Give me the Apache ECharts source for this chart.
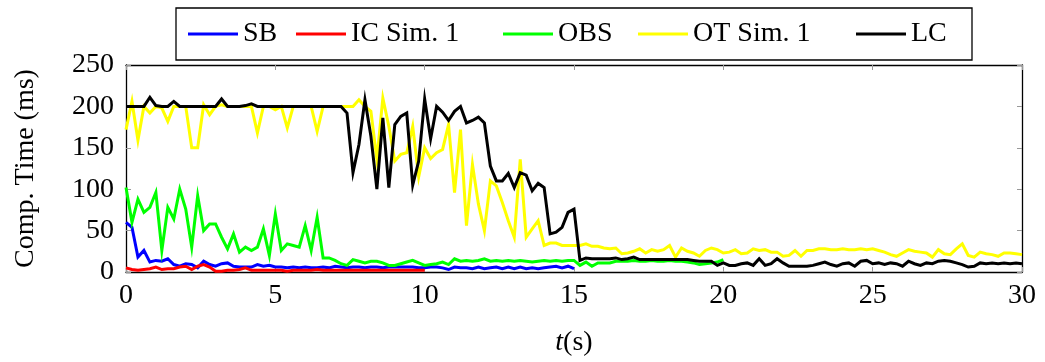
<!DOCTYPE html>
<html>
<head>
<meta charset="utf-8">
<script src="https://cdn.jsdelivr.net/npm/echarts@6/dist/echarts.min.js"></script>
<style>html,body{margin:0;padding:0;background:#fff}#c{width:1045px;height:362px}</style>
</head>
<body>
<div id="c"></div>
<script>
// time step between samples (seconds)
const tStep = 0.2;
const xTicks = [0, 5, 10, 15, 20, 25, 30];
const yTicks = [0, 50, 100, 150, 200, 250];
const seriesNames = ['SB', 'IC Sim. 1', 'OBS', 'OT Sim. 1', 'LC'];

// SB: 0 .. 15 s
const sb = [60,54,18,26,12, 14,13,16,9,7, 10,9,5,13,9, 7,10,11,7,6, 6,6,9,7,8,
  6,6,5,6,5, 6,5,5,6,5, 7,6,5,6,6, 5,6,6,5,6, 6,6,6,6,5,
  5,6,6,5,3, 6,5,5,4,6, 4,5,6,4,6, 4,6,4,5,4, 5,6,7,5,7, 4];
// IC Sim. 1: 0 .. 10 s
const ic = [5,3,2,3,4, 6,3,4,4,6, 7,3,7,9,6, 1,1,2,2,3, 5,2,2,2,2,
  2,2,1,2,2, 2,2,3,2,2, 2,2,2,2,2, 2,2,2,2,2, 2,2,2,2,2, 2];
// OBS: 0 .. 20 s
const obs = [102,60,88,72,78, 96,26,78,64,100, 76,30,92,50,58, 58,42,28,46,24, 30,26,30,52,20,
  70,26,34,32,30, 56,26,66,17,17, 14,10,8,15,13, 11,13,13,11,8, 8,10,12,14,11,
  8,9,10,12,9, 16,13,14,13,14, 16,13,14,13,14, 13,14,13,12,13, 14,13,14,13,14,
  14,8,12,7,11, 11,11,13,13,13, 14,13,13,14,13, 13,14,13,13,12, 11,9,10,11,12, 15];
// OT Sim. 1: 0 .. 30 s
const ot = [172,206,159,200,192, 200,198,182,200,200, 200,150,150,202,190, 200,202,200,200,200,
  200,200,168,200,200, 196,200,174,200,200, 200,200,170,200,200, 200,200,200,200,208,
  200,194,136,210,176, 134,142,144,176,115, 150,137,144,148,178, 96,172,56,130,82,
  50,110,104,84,62, 42,136,42,52,62, 32,35,35,32,32, 32,32,34,31,31,
  29,28,29,22,23, 25,28,23,27,25, 27,32,18,29,25, 23,19,26,29,27,
  23,24,27,22,23, 28,26,27,24,24, 19,20,26,19,26, 26,28,28,27,27,
  28,27,27,28,27, 28,26,24,21,19, 23,27,25,24,23, 18,27,22,21,28,
  34,20,18,24,22, 21,19,23,23,22, 21];
// LC: 0 .. 30 s
const lc = [200,200,200,200,211, 201,200,200,206,200, 200,200,200,200,200, 200,209,200,200,200,
  201,203,200,200,200, 200,200,200,200,200, 200,200,200,200,200, 200,200,192,120,154,
  208,164,100,186,102, 178,188,192,105,134, 209,161,200,193,183, 194,200,180,183,187,
  180,128,110,110,119, 102,120,117,98,107, 102,46,48,54,72, 76,14,17,16,16,
  16,16,17,15,16, 18,15,15,15,15, 15,15,15,15,15, 14,13,13,13,8,
  11,8,8,10,11, 8,16,8,10,16, 11,7,7,7,7, 8,10,12,9,7,
  10,11,7,13,14, 10,11,9,11,10, 7,13,10,8,11, 10,13,14,13,11,
  9,6,7,11,10, 11,10,11,10,11, 10];

const colors = ['#0000ff', '#ff0000', '#00ff00', '#ffff00', '#000000'];
const allData = [sb, ic, obs, ot, lc];
const legendTextWidths = [42, 141, 69, 152, 46];

function pairs(arr) { return arr.map((v, i) => [Math.round(i * tStep * 10) / 10, v]); }

const FONT = '"Liberation Serif", "Times New Roman", serif';
const tickStyle = { show: true, inside: true, length: 5, lineStyle: { color: '#999', width: 1 } };
const lineStyle = { show: true, onZero: false, lineStyle: { color: '#000', width: 1.3 } };

const chart = echarts.init(document.getElementById('c'), null, { renderer: 'canvas' });
chart.setOption({
  animation: false,
  backgroundColor: '#fff',
  grid: { left: 126, right: 23, top: 65, bottom: 89, containLabel: false },
  legend: {
    left: 176, top: 8,
    padding: [12, 15, 12, 12],
    borderColor: '#000', borderWidth: 1.3, borderRadius: 0,
    itemWidth: 50, itemHeight: 3, itemGap: 11,
    icon: 'rect',
    textStyle: { fontFamily: FONT, fontSize: 28, color: '#000', lineHeight: 28 },
    data: seriesNames.map((n, i) => ({ name: n, textStyle: { width: legendTextWidths[i], fontFamily: FONT, fontSize: 28 } }))
  },
  xAxis: [{
    type: 'value', min: xTicks[0], max: xTicks[xTicks.length - 1], interval: xTicks[1] - xTicks[0],
    position: 'bottom',
    axisLine: lineStyle, axisTick: tickStyle, splitLine: { show: false },
    axisLabel: { fontFamily: FONT, fontSize: 28, color: '#000', margin: 10 },
    name: '{i|t}(s)', nameLocation: 'middle', nameGap: 57,
    nameTextStyle: { fontFamily: FONT, fontSize: 28, color: '#000',
      rich: { i: { fontFamily: FONT, fontSize: 28, fontStyle: 'italic', color: '#000' } } }
  }, {
    type: 'value', min: xTicks[0], max: xTicks[xTicks.length - 1], interval: xTicks[1] - xTicks[0],
    position: 'top',
    axisLine: lineStyle, axisTick: tickStyle, splitLine: { show: false },
    axisLabel: { show: false }
  }],
  yAxis: [{
    type: 'value', min: yTicks[0], max: yTicks[yTicks.length - 1], interval: yTicks[1] - yTicks[0],
    position: 'left',
    axisLine: lineStyle, axisTick: tickStyle, splitLine: { show: false },
    axisLabel: { fontFamily: FONT, fontSize: 28, color: '#000', margin: 12 },
    name: 'Comp. Time (ms)', nameLocation: 'middle', nameGap: 86, nameRotate: 90,
    nameTextStyle: { fontFamily: FONT, fontSize: 28, color: '#000' }
  }, {
    type: 'value', min: yTicks[0], max: yTicks[yTicks.length - 1], interval: yTicks[1] - yTicks[0],
    position: 'right',
    axisLine: lineStyle, axisTick: tickStyle, splitLine: { show: false },
    axisLabel: { show: false }
  }],
  series: seriesNames.map((n, i) => ({
    name: n, type: 'line', xAxisIndex: 0, yAxisIndex: 0,
    data: pairs(allData[i]),
    symbol: 'none', showSymbol: false,
    lineStyle: { color: colors[i], width: 3, join: 'miter' },
    itemStyle: { color: colors[i] },
    z: 2 + i
  }))
});
</script>
</body>
</html>
